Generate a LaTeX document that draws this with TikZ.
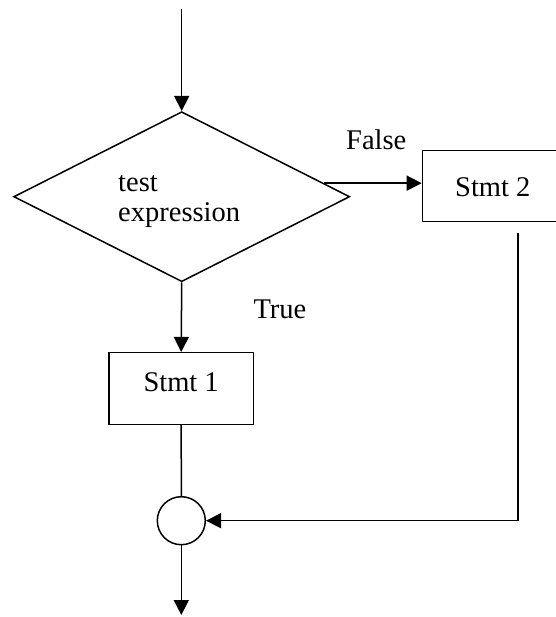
\documentclass[tikz,border=0pt]{standalone}
\usepackage{fontspec}
\setmainfont{Liberation Serif}
\usetikzlibrary{shapes.geometric,arrows.meta,calc}
\tikzset{
  flow/.style={line width=1.5bp},
  arr/.style={flow,-{Triangle[length=15bp,width=15bp]}},
  box/.style={draw,line width=1.5bp,rectangle,inner sep=0pt},
  decision/.style={draw,line width=1.5bp,diamond,inner sep=0pt,
    minimum width=336bp,minimum height=170bp},
  junction/.style={draw,line width=1.5bp,circle,inner sep=0pt,minimum size=48bp},
  txt/.style={inner sep=0pt,anchor=base west,font=\fontsize{28.5bp}{34bp}\selectfont}
}
\begin{document}
\begin{tikzpicture}[x=1bp,y=-1bp]
\useasboundingbox (0,0) rectangle (556,617);
\clip (0,0) rectangle (556,617);

% shapes
\node[decision] (d) at (181.7,196.7) {};
\node[box,minimum width=144.3bp,minimum height=71.6bp] (s1) at (181.2,388.5) {};
\node[box,minimum width=160bp,minimum height=70.7bp,anchor=north west] (s2) at (421.7,150) {};
\node[junction] (c) at (181.3,520.7) {};

% texts
\node[txt] (tTest) at (118,191.5) {test};
\node[txt] (tExpr) at (118,221.5) {expression};
\node[txt] (tS1) at (143.3,391) {Stmt 1};
\node[txt] (tS2) at (455,196.7) {Stmt 2};
\node[txt] (tFalse) at (346,150) {False};
\node[txt] (tTrue) at (253.3,318.3) {True};

% free ends
\coordinate (entry) at (181.7,9.3);
\coordinate (exit) at (181.3,615);
\coordinate (falseOut) at ($(d.north)!0.842!(d.east)$);
\coordinate (s2Out) at (518,233.3);

% connectors
\draw[arr] (entry) -- (d.north);
\draw[arr] (d.south) -- (s1.north);
\draw[flow] (s1.south) -- (c.north);
\draw[arr] (c.south) -- (exit);
\draw[arr] (falseOut) -- (falseOut -| s2.west);
\draw[arr] (s2Out) |- (c.east);
\end{tikzpicture}
\end{document}
